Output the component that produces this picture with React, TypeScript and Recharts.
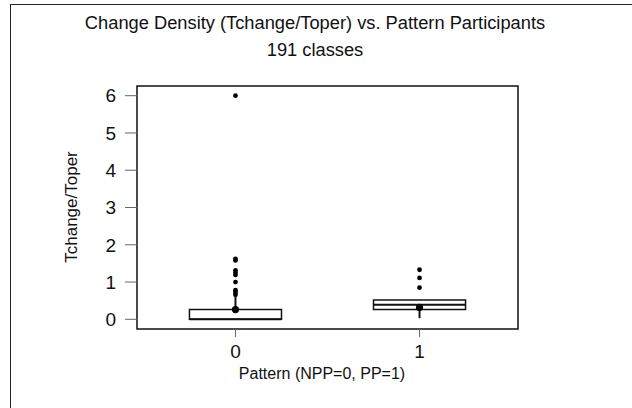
import React from 'react';
import {
  ComposedChart,
  Scatter,
  XAxis,
  YAxis,
  ReferenceArea,
  ReferenceLine,
} from 'recharts';

// one entry per group: Pattern 0 (NPP) and Pattern 1 (PP)
const groups = [0, 1];
const q1 = [0, 0.26];
const median = [0, 0.39];
const q3 = [0.26, 0.52];
const whiskerLow = [0, 0.03];
const whiskerHigh = [0.64, 0.52];
const marked = [0.26, 0.32];
const outliers0 = [0.66, 0.72, 0.78, 1.0, 1.19, 1.25, 1.31, 1.58, 1.62, 6.0];
const outliers1 = [0.85, 1.11, 1.33];
const yTicks = [0, 1, 2, 3, 4, 5, 6];

const font = '"Liberation Sans", Arial, sans-serif';
const X_DOMAIN: [number, number] = [-0.535, 1.535];
const Y_DOMAIN: [number, number] = [-0.26, 6.26];
const HALF = 0.25;

const outlierPts = [
  ...outliers0.map((y) => ({ x: groups[0], y })),
  ...outliers1.map((y) => ({ x: groups[1], y })),
];
const markedPts = groups.map((g, i) => ({ x: g, y: marked[i] }));

function Dot(r: number) {
  return (p: any) => <circle cx={p.cx} cy={p.cy} r={r} fill="#000" />;
}

export default function App() {
  return (
    <div
      style={{
        position: 'fixed',
        left: 0,
        top: 0,
        width: 632,
        height: 408,
        background: '#fff',
        fontFamily: font,
        overflow: 'hidden',
      }}
    >
      <div
        style={{
          position: 'absolute',
          left: 10,
          top: 4,
          width: 640,
          height: 420,
          borderLeft: '1.5px solid #222',
          borderTop: '1.5px solid #222',
        }}
      />
      <div style={{ position: 'absolute', left: 0, width: 630, top: 12, textAlign: 'center', fontSize: 18.3, color: '#111' }}>
        Change Density (Tchange/Toper) vs. Pattern Participants
      </div>
      <div style={{ position: 'absolute', left: 0, width: 630, top: 39, textAlign: 'center', fontSize: 18.3, color: '#111' }}>
        191 classes
      </div>
      <div
        style={{
          position: 'absolute',
          left: 72,
          top: 207,
          transform: 'translate(-50%, -50%) rotate(-90deg)',
          fontSize: 17,
          whiteSpace: 'nowrap',
          color: '#111',
        }}
      >
        Tchange/Toper
      </div>
      <div style={{ position: 'absolute', left: 0, width: 644, top: 365, textAlign: 'center', fontSize: 16, color: '#111' }}>
        Pattern (NPP=0, PP=1)
      </div>
      <div style={{ position: 'absolute', left: 0, top: 0 }}>
        <ComposedChart width={632} height={408} margin={{ top: 86, right: 114, bottom: 0, left: 87 }}>
          <XAxis
            type="number"
            dataKey="x"
            domain={X_DOMAIN}
            ticks={groups}
            interval={0}
            allowDataOverflow
            axisLine={false}
            tickSize={8}
            tickMargin={8}
            tickLine={{ stroke: '#666' }}
            tick={{ fill: '#111', fontSize: 19, fontFamily: font }}
            height={79}
          />
          <YAxis
            type="number"
            dataKey="y"
            domain={Y_DOMAIN}
            ticks={yTicks}
            interval={0}
            allowDataOverflow
            axisLine={false}
            tickSize={12}
            tickMargin={9}
            tickLine={{ stroke: '#666' }}
            tick={{ fill: '#111', fontSize: 19, fontFamily: font }}
            width={50}
          />
          <ReferenceArea
            x1={X_DOMAIN[0]}
            x2={X_DOMAIN[1]}
            y1={Y_DOMAIN[0]}
            y2={Y_DOMAIN[1]}
            fill="none"
            stroke="#111"
            strokeWidth={1.5}
          />
          {groups.map((g, i) => (
            <ReferenceArea
              key={'box' + g}
              x1={g - HALF}
              x2={g + HALF}
              y1={q1[i]}
              y2={q3[i]}
              fill="#fff"
              fillOpacity={1}
              stroke="#111"
              strokeWidth={1.5}
            />
          ))}
          {groups.map((g, i) => (
            <ReferenceLine
              key={'med' + g}
              segment={[
                { x: g - HALF, y: median[i] },
                { x: g + HALF, y: median[i] },
              ]}
              stroke="#111"
              strokeWidth={2}
            />
          ))}
          {groups.map((g, i) => (
            <ReferenceLine
              key={'wl' + g}
              segment={[
                { x: g, y: whiskerLow[i] },
                { x: g, y: q1[i] },
              ]}
              stroke="#111"
              strokeWidth={2}
            />
          ))}
          {groups.map((g, i) => (
            <ReferenceLine
              key={'wh' + g}
              segment={[
                { x: g, y: q3[i] },
                { x: g, y: whiskerHigh[i] },
              ]}
              stroke="#111"
              strokeWidth={2}
            />
          ))}
          <Scatter data={outlierPts} shape={Dot(2.4)} isAnimationActive={false} />
          <Scatter data={markedPts} shape={Dot(3.6)} isAnimationActive={false} />
        </ComposedChart>
      </div>
    </div>
  );
}
